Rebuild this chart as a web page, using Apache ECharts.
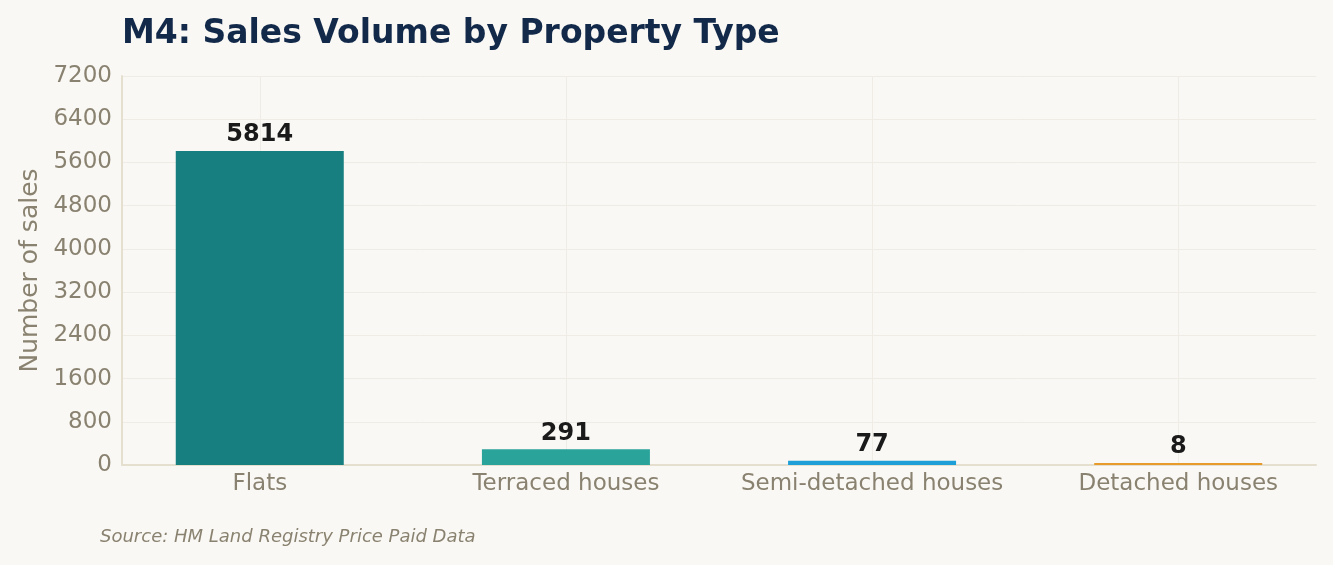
<!DOCTYPE html>
<html lang="en">
<head>
    <meta charset="UTF-8">
    <title>M4: Sales Volume by Property Type</title>
    <script src="https://cdn.jsdelivr.net/npm/echarts@6/dist/echarts.min.js"></script>
    <style>
        html, body { margin: 0; padding: 0; background: #f9f8f4; }
    </style>
</head>
<body>
<div id="main" style="width: 1333px;height: 565px"></div>
<script>
    // data
    var categories = ['Flats', 'Terraced houses', 'Semi-detached houses', 'Detached houses'];
    var salesCounts = [5814, 291, 77, 8];
    var yTicks = [0, 800, 1600, 2400, 3200, 4000, 4800, 5600, 6400, 7200];
    var barColors = ['#177f7f', '#2aa39b', '#1f9fd8', '#e69b2a'];

    var xPositions = categories.map(function (c, i) { return i; });
    var barData = salesCounts.map(function (v, i) {
        return { value: [i, v], itemStyle: { color: barColors[i] } };
    });

    var myChart = echarts.init(document.getElementById('main'));

    var option = {
        backgroundColor: '#f9f8f4',
        textStyle: { fontFamily: 'DejaVu Sans' },
        title: {
            text: 'M4: Sales Volume by Property Type',
            left: 117,
            top: 13,
            textStyle: { color: '#12294a', fontSize: 33, fontWeight: 'bold', fontFamily: 'DejaVu Sans' }
        },
        graphic: [{
            type: 'text',
            left: 100,
            top: 528,
            style: {
                text: 'Source: HM Land Registry Price Paid Data',
                fill: '#8a8270',
                font: 'italic 18px "DejaVu Sans"'
            }
        }],
        grid: { left: 122, right: 17, top: 76, bottom: 100 },
        xAxis: {
            type: 'value',
            min: -0.45,
            max: 3.45,
            axisLine: { show: true, onZero: false, lineStyle: { color: '#e5dfd0', width: 2 } },
            axisTick: { show: false, customValues: xPositions },
            axisLabel: {
                customValues: xPositions,
                color: '#8a8270',
                fontSize: 23,
                margin: 8,
                formatter: function (v) { return categories[Math.round(v)]; }
            },
            splitLine: { show: true, lineStyle: { color: '#efece5', width: 1 } }
        },
        yAxis: {
            type: 'value',
            min: yTicks[0],
            max: yTicks[yTicks.length - 1],
            interval: yTicks[1] - yTicks[0],
            name: 'Number of sales',
            nameLocation: 'middle',
            nameGap: 78,
            nameTextStyle: { color: '#8a8270', fontSize: 25 },
            axisLine: { show: true, onZero: false, lineStyle: { color: '#e5dfd0', width: 2 } },
            axisTick: { show: false },
            axisLabel: {
                color: '#8a8270',
                fontSize: 23,
                margin: 10,
                padding: [3, 0, 0, 0],
                formatter: function (v) { return String(v); }
            },
            splitLine: { show: true, lineStyle: { color: '#efece5', width: 1 } }
        },
        series: [{
            type: 'bar',
            data: barData,
            barWidth: 168,
            barMinHeight: 2,
            label: {
                show: true,
                position: 'top',
                distance: 4,
                color: '#1a1a1a',
                fontSize: 24,
                fontWeight: 'bold',
                formatter: function (p) { return p.value[1]; }
            }
        }]
    };

    myChart.setOption(option);
</script>
</body>
</html>
